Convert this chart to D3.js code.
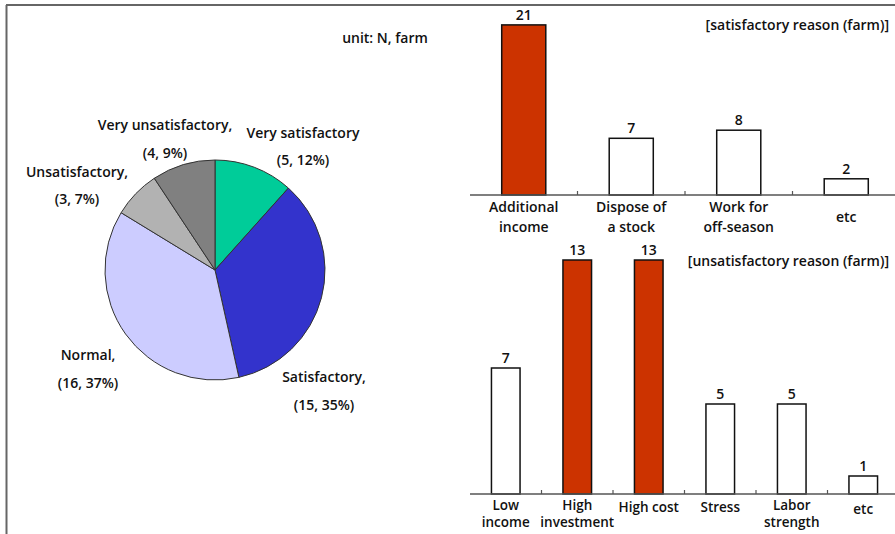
<!DOCTYPE html>
<html>
<head>
<meta charset="utf-8">
<script src="https://cdn.jsdelivr.net/npm/d3@7"></script>
<style>
  html, body { margin: 0; padding: 0; background: #fff; }
  svg { display: block; }
  text { font-family: "Open Sans", "DejaVu Sans", sans-serif; font-weight: 600; fill: #111; }
</style>
</head>
<body>
<svg id="chart" width="895" height="534"></svg>
<script>
// Overall satisfaction (pie)
const pieCategories = ["Very satisfactory", "Satisfactory", "Normal", "Unsatisfactory", "Very unsatisfactory"];
const pieValues = [5, 15, 16, 3, 4];
const pieColors = ["#00cc99", "#3333cc", "#ccccff", "#b2b2b2", "#808080"];
const pieLabelNames = ["Very satisfactory", "Satisfactory,", "Normal,", "Unsatisfactory,", "Very unsatisfactory,"];

// Reasons for satisfaction
const satCategories = [["Additional", "income"], ["Dispose of", "a stock"], ["Work for", "off-season"], ["etc"]];
const satValues = [21, 7, 8, 2];
const satHighlight = [true, false, false, false];

// Reasons for dissatisfaction
const unsatCategories = [["Low", "income"], ["High", "investment"], ["High cost"], ["Stress"], ["Labor", "strength"], ["etc"]];
const unsatValues = [7, 13, 13, 5, 5, 1];
const unsatHighlight = [false, true, true, false, false, false];

const svg = d3.select("#chart");
const RED = "#cc3300";

// frame lines (top and left)
svg.append("line").attr("x1", 6).attr("y1", 5).attr("x2", 895).attr("y2", 5)
  .attr("stroke", "#666").attr("stroke-width", 2);
svg.append("line").attr("x1", 6.5).attr("y1", 5).attr("x2", 6.5).attr("y2", 534)
  .attr("stroke", "#666").attr("stroke-width", 2);

// ---------- pie ----------
const cx = 215, cy = 270, radius = 110;
const total = d3.sum(pieValues);
const pie = d3.pie().sort(null).value(d => d)(pieValues);
const arc = d3.arc().innerRadius(0).outerRadius(radius);
const pg = svg.append("g").attr("transform", `translate(${cx},${cy})`);
pg.selectAll("path").data(pie).join("path")
  .attr("d", arc)
  .attr("fill", (d, i) => pieColors[i])
  .attr("stroke", "#333").attr("stroke-width", 1);

// label anchors (centre x, first-line baseline)
const pieLabelPos = [
  { x: 303, y: 138, dy: 27 },
  { x: 324, y: 382, dy: 28 },
  { x: 88, y: 360, dy: 28 },
  { x: 77, y: 177, dy: 27 },
  { x: 165, y: 130, dy: 28 }
];
pieValues.forEach((v, i) => {
  const p = pieLabelPos[i];
  const pct = Math.round(v / total * 100);
  const t = svg.append("text").attr("text-anchor", "middle").attr("font-size", 14);
  t.append("tspan").attr("x", p.x).attr("y", p.y).text(pieLabelNames[i]);
  t.append("tspan").attr("x", p.x).attr("y", p.y + p.dy).text(`(${v}, ${pct}%)`);
});

svg.append("text").attr("x", 385).attr("y", 43).attr("text-anchor", "middle")
  .attr("font-size", 14).text("unit: N, farm");

// ---------- bar charts ----------
function barChart(cfg) {
  const { categories, values, highlight, x0, x1, baseY, pxPerUnit, bandPad, title, titleY,
          line1, line2, singleY, labelSize } = cfg;
  const g = svg.append("g");
  const x = d3.scaleBand().domain(d3.range(values.length)).range([x0, x1]).paddingInner(bandPad).paddingOuter(bandPad / 2);
  const full = d3.scaleBand().domain(d3.range(values.length)).range([x0, x1]);
  const y = d3.scaleLinear().domain([0, 1]).range([baseY, baseY - pxPerUnit]);

  g.selectAll("rect").data(values).join("rect")
    .attr("x", (d, i) => x(i))
    .attr("width", x.bandwidth())
    .attr("y", d => y(d))
    .attr("height", d => baseY - y(d))
    .attr("fill", (d, i) => highlight[i] ? RED : "#fff")
    .attr("stroke", "#111").attr("stroke-width", 1.5);

  // value labels
  g.selectAll("text.val").data(values).join("text")
    .attr("class", "val")
    .attr("x", (d, i) => x(i) + x.bandwidth() / 2)
    .attr("y", d => y(d) - 5)
    .attr("text-anchor", "middle").attr("font-size", 14)
    .text(d => d);

  // axis line and inner ticks
  g.append("line").attr("x1", x0).attr("x2", 895).attr("y1", baseY).attr("y2", baseY)
    .attr("stroke", "#555").attr("stroke-width", 1.5);
  d3.range(1, values.length).forEach(i => {
    g.append("line").attr("x1", full(i)).attr("x2", full(i)).attr("y1", baseY).attr("y2", baseY - 4)
      .attr("stroke", "#555").attr("stroke-width", 1.2);
  });

  // category labels
  categories.forEach((lines, i) => {
    const cxp = full(i) + full.bandwidth() / 2;
    const t = g.append("text").attr("text-anchor", "middle").attr("font-size", labelSize);
    if (lines.length === 2) {
      t.append("tspan").attr("x", cxp).attr("y", line1).text(lines[0]);
      t.append("tspan").attr("x", cxp).attr("y", line2).text(lines[1]);
    } else {
      t.append("tspan").attr("x", cxp).attr("y", lines[0] === "etc" ? singleY + 2 : singleY).text(lines[0]);
    }
  });

  svg.append("text").attr("x", 889).attr("y", titleY).attr("text-anchor", "end")
    .attr("font-size", 14).text(title);
}

barChart({
  categories: satCategories, values: satValues, highlight: satHighlight,
  x0: 470, x1: 900, baseY: 195, pxPerUnit: 8.1, bandPad: 0.59,
  title: "[satisfactory reason (farm)]", titleY: 30,
  line1: 212, line2: 232, singleY: 220, labelSize: 14
});

barChart({
  categories: unsatCategories, values: unsatValues, highlight: unsatHighlight,
  x0: 470, x1: 899, baseY: 494, pxPerUnit: 18, bandPad: 0.6,
  title: "[unsatisfactory reason (farm)]", titleY: 266,
  line1: 510, line2: 527, singleY: 512, labelSize: 13.5
});
</script>
</body>
</html>
